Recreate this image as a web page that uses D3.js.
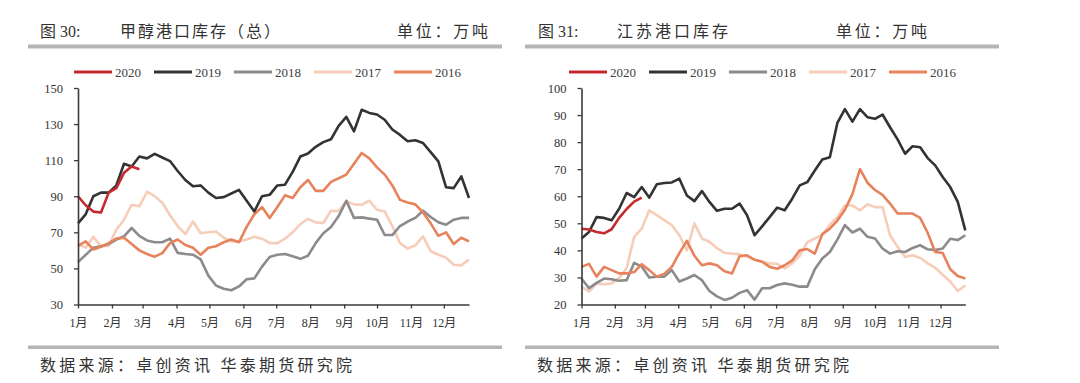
<!DOCTYPE html>
<html><head><meta charset="utf-8">
<script src="https://cdn.jsdelivr.net/npm/d3@7"></script>
<style>
html,body{margin:0;padding:0;background:#fff;}
svg{display:block;}
</style></head>
<body><svg id="chart" width="1080" height="383"></svg>
<script>
// ---------- data ----------
const seriesNames = ["2020","2019","2018","2017","2016"];
const monthLabels = ["1月","2月","3月","4月","5月","6月","7月","8月","9月","10月","11月","12月"];
const leftTicks = [30,50,70,90,110,130,150];
const rightTicks = [20,30,40,50,60,70,80,90,100];

// 图30 甲醇港口库存（总） weekly
const total2020 = [90,85,81.5,81,92,94.5,103,106.5,105];
const total2019 = [75,80,90,92,92,96,108,106.5,112,111,113.5,111.5,109.5,104,99,95.5,96,92,89,89.5,91.5,93.5,87.5,81.6,90,90.8,96,96.4,103.5,112,113.7,117.4,120,121.6,129,134,126,137.9,136.2,135.3,132.4,127,124,120.5,121,119.5,114.5,109.3,95,94.5,101,89];
const total2018 = [53.5,57.5,61.5,62.3,63.5,66,67.8,72.4,68,65.5,64.5,64.5,66.5,58.6,58,57.6,55,46,40.5,38.7,37.9,40,44,44.5,51,56.3,57.6,58,56.7,55.3,57,64,69.5,73,79,87.5,78,78.3,77.6,77,68.5,68.5,73.5,76,78,82,78.5,75.6,74.2,77,78,78];
const total2017 = [63.5,61.5,67.5,62.3,62.5,71.5,77,85.3,84.4,92.5,90,86.4,79.5,73.5,69,76,69.5,70,70.5,67,65,65,66,67.5,66.5,64,64,66.5,70,74.5,77.5,75.5,75.2,82,81.8,87.3,85.5,85.3,87.5,82.5,81.6,73.5,64,61,62.8,67.8,59.5,57.6,56,52,51.7,54.9];
const total2016 = [62.5,65,60.5,62,64,66.5,67,63.5,60,58,56.5,58.5,64,66,63,61.5,57.6,61.5,62.3,64.5,66,64.5,73,80,84,78,84,90.5,89,95,99,93,93,98,100,102,108,114,111,106,102,96,88,86.5,85.5,81,75,68,70,63.5,67,65];

// 图31 江苏港口库存 weekly
const js2020 = [48,47.7,46.8,46.3,47.8,52,55.3,58,59.5];
const js2019 = [44.4,46.8,52.3,52,51.1,55.4,61.2,59.7,63.4,59.5,64.4,64.9,65.1,66.5,60.3,58.2,61.9,57.9,54.6,55.4,55.4,57.3,53,45.6,48.9,52.3,55.8,54.8,59.1,64,65.2,69.5,73.6,74.4,87.1,92.2,87.6,92.2,89.2,88.6,90.2,85.5,81,75.7,78.5,78.1,74.1,71.4,67.1,63.4,57.9,47.4];
const js2018 = [29.6,26,28,29.6,29.3,28.8,29,35.4,34,30,30.3,30.3,32.7,28.5,29.6,30.9,29,25,23,21.7,22.5,24.3,25.3,21.8,26,26,27.2,27.8,27.3,26.6,26.6,33,37,39.4,44,49.3,46.6,48,45,44.4,40.7,38.8,39.7,39.4,40.9,41.9,40.4,40.1,40.7,44.3,43.8,45.6];
const js2017 = [26.6,24.8,27.8,27.5,27.8,29.8,33.5,45,48,54.8,53,51.2,49.3,45.6,40,50,44.4,43.2,40.8,39.1,38.8,38.6,37.6,36.6,35.8,35.2,35,33.3,35.2,38,43,44.4,45.8,49.5,52.3,56.6,56.6,54.8,57,56,56,45.6,41.3,37.6,38.2,37.2,35.2,33.6,31,28.5,25,27];
const js2016 = [33.9,35,30.3,33.9,32.7,31.5,31.5,32,34.9,32.7,30.3,31.3,33.9,39,43.5,38,34.5,35.2,34.5,32.3,31.5,37.8,38.2,36.5,35.8,33.9,33.2,34.5,36.3,40,40.5,38.8,46,48,51,55,60.8,70,65,62.3,60.5,57.3,53.6,53.6,53.6,52,46.5,39.4,39,33,30.5,29.6];

// ---------- styling ----------
const colors = {"2020":"#c62a2e","2019":"#333333","2018":"#8b8b8b","2017":"#f6cdb9","2016":"#e6835d"};
const drawOrder = ["2017","2018","2016","2019","2020"];
const serif = "'Liberation Serif','Noto Sans CJK SC',serif";
const cjk = "'Liberation Serif','Noto Sans CJK SC',sans-serif";

const svg = d3.select("#chart");
svg.append("rect").attr("width",1080).attr("height",383).attr("fill","#fff");

const weekDate = i => new Date(2019, 0, 1 + 7*i);
const monthDates = d3.range(12).map(m => new Date(2019, m, 1));

function panel(cfg){
  const g = svg.append("g");
  // header
  g.append("text").attr("x",cfg.figX).attr("y",37).attr("font-family",cjk).attr("font-size",16)
    .attr("fill","#333").text(cfg.fig);
  g.append("text").attr("x",cfg.titleX).attr("y",37).attr("font-family",cjk).attr("font-size",16)
    .attr("fill","#333").attr("textLength",cfg.titleW).attr("lengthAdjust","spacing").text(cfg.title);
  g.append("text").attr("x",cfg.unitX).attr("y",37).attr("font-family",cjk).attr("font-size",16)
    .attr("fill","#333").attr("textLength",cfg.unitW).attr("lengthAdjust","spacing").text("单位：万吨");
  g.append("rect").attr("x",cfg.barX).attr("y",44.5).attr("width",cfg.barW).attr("height",4).attr("fill","#b5b5b5");
  g.append("rect").attr("x",cfg.barX).attr("y",345.5).attr("width",cfg.barW).attr("height",3.5).attr("fill","#b5b5b5");
  g.append("text").attr("x",cfg.srcX).attr("y",371).attr("font-family",cjk).attr("font-size",16)
    .attr("fill","#333").attr("textLength",312).attr("lengthAdjust","spacing").text("数据来源：卓创资讯 华泰期货研究院");

  // legend
  seriesNames.forEach((s,k)=>{
    const lx = cfg.legX + k*80;
    g.append("line").attr("x1",lx).attr("x2",lx+38).attr("y1",72).attr("y2",72)
      .attr("stroke",colors[s]).attr("stroke-width",3);
    g.append("text").attr("x",lx+41).attr("y",76.5).attr("font-family",serif).attr("font-size",13)
      .attr("fill","#404040").text(s);
  });

  // scales
  const x = d3.scaleTime().domain([weekDate(0), weekDate(51)]).range([cfg.x0, cfg.x1]);
  const y = d3.scaleLinear().domain(cfg.yDomain).range([304.5, 88]);

  // lines
  const line = d3.line().x((d,i)=>x(weekDate(i))).y(d=>y(d)).curve(d3.curveLinear);
  drawOrder.forEach(s=>{
    g.append("path").datum(cfg.data[s]).attr("d",line).attr("fill","none")
      .attr("stroke",colors[s]).attr("stroke-width",2.6).attr("stroke-linejoin","round");
  });

  // axes
  const ya = g.append("g").attr("transform",`translate(${cfg.x0},0)`)
    .call(d3.axisLeft(y).tickValues(cfg.yTicks).tickSize(4).tickSizeOuter(0).tickPadding(11));
  const xa = g.append("g").attr("transform",`translate(0,304.5)`)
    .call(d3.axisBottom(x).tickValues(monthDates).tickSize(4).tickSizeOuter(0).tickPadding(10)
      .tickFormat((d,i)=>monthLabels[i]));
  [ya,xa].forEach(a=>{
    a.select(".domain").attr("stroke","#3a3a3a").attr("stroke-width",1.6);
    a.selectAll(".tick line").attr("stroke","#3a3a3a").attr("stroke-width",1.3);
    a.selectAll("text").attr("fill","#333").attr("font-family",serif);
  });
  ya.selectAll("text").attr("font-size",12.5);
  xa.selectAll("text").attr("font-size",12);
}

panel({
  fig:"图 30:", figX:40, title:"甲醇港口库存（总）", titleX:120, titleW:160,
  unitX:397, unitW:91, barX:28, barW:474, srcX:40, legX:74,
  x0:78, x1:469, yDomain:[30,150], yTicks:leftTicks,
  data:{"2020":total2020,"2019":total2019,"2018":total2018,"2017":total2017,"2016":total2016}
});
panel({
  fig:"图 31:", figX:538, title:"江苏港口库存", titleX:617, titleW:111,
  unitX:836, unitW:91, barX:525, barW:474, srcX:537, legX:569,
  x0:581.5, x1:965.3, yDomain:[20,100], yTicks:rightTicks,
  data:{"2020":js2020,"2019":js2019,"2018":js2018,"2017":js2017,"2016":js2016}
});
</script></body></html>
